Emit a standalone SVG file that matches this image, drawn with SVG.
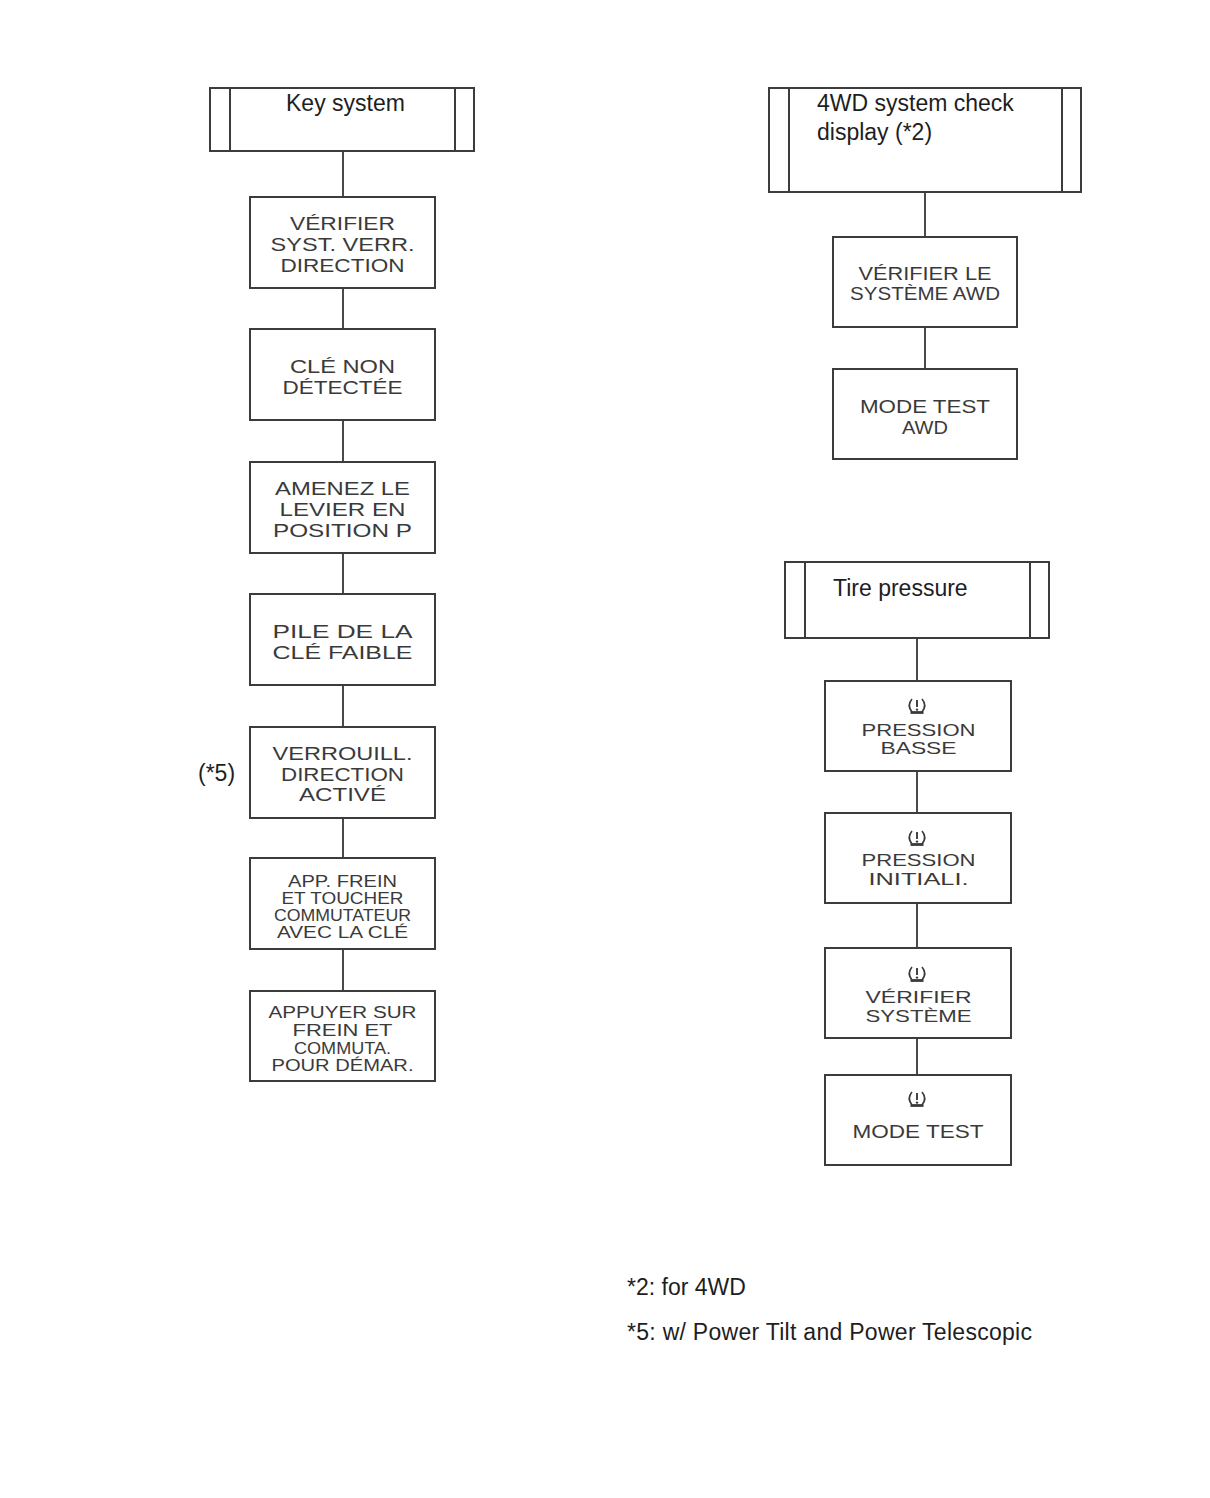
<svg xmlns="http://www.w3.org/2000/svg" xmlns:xlink="http://www.w3.org/1999/xlink" width="1210" height="1498" viewBox="0 0 1210 1498">
<style>
.bg{fill:#ffffff}
.box{fill:#ffffff;stroke:#3c3c3c;stroke-width:2}
.hdr{fill:#ffffff;stroke:#3c3c3c;stroke-width:2}
.inner{stroke:#3c3c3c;stroke-width:2}
.conn{stroke:#4a4a4a;stroke-width:2;fill:none}
.t{font-family:"Liberation Sans",Arial,sans-serif;font-size:19px;fill:#3a3a3a;text-anchor:middle}
.tt{font-family:"Liberation Sans",Arial,sans-serif;font-size:17px;fill:#3a3a3a;text-anchor:middle}
.ts{font-family:"Liberation Sans",Arial,sans-serif;font-size:16px;fill:#3a3a3a;text-anchor:middle}
.h{font-family:"Liberation Sans",Arial,sans-serif;font-size:23px;fill:#1e1e1e}
.ic{fill:none;stroke:#3a3a3a;stroke-width:1.6}
</style>
<defs>
<g id="tire">
<path class="ic" d="M5 1 Q-0.5 7.5 5 14"/>
<path class="ic" d="M15 1 Q20.5 7.5 15 14"/>
<path d="M3.5 14.5 L16.5 14.5" stroke="#3a3a3a" stroke-width="2.8"/>
<path d="M10 2 L10 9" stroke="#3a3a3a" stroke-width="1.9"/>
<circle cx="10" cy="11.6" r="1.2" fill="#3a3a3a"/>
</g>
</defs>
<rect class="bg" x="0" y="0" width="1210" height="1498"/>

<g id="connectors">
<line class="conn" x1="343" y1="151" x2="343" y2="197"/>
<line class="conn" x1="343" y1="288" x2="343" y2="329"/>
<line class="conn" x1="343" y1="420" x2="343" y2="462"/>
<line class="conn" x1="343" y1="553" x2="343" y2="594"/>
<line class="conn" x1="343" y1="685" x2="343" y2="727"/>
<line class="conn" x1="343" y1="818" x2="343" y2="858"/>
<line class="conn" x1="343" y1="949" x2="343" y2="991"/>
<line class="conn" x1="925" y1="192" x2="925" y2="237"/>
<line class="conn" x1="925" y1="327" x2="925" y2="369"/>
<line class="conn" x1="917" y1="638" x2="917" y2="681"/>
<line class="conn" x1="917" y1="771" x2="917" y2="813"/>
<line class="conn" x1="917" y1="903" x2="917" y2="948"/>
<line class="conn" x1="917" y1="1038" x2="917" y2="1075"/>
</g>

<g id="key-system">
<rect class="hdr" x="210" y="88" width="264" height="63"/>
<line class="inner" x1="230" y1="88" x2="230" y2="151"/>
<line class="inner" x1="455" y1="88" x2="455" y2="151"/>
<text class="h" x="286" y="111">Key system</text>
</g>

<g id="n-verifier-syst">
<rect class="box" x="250" y="197" width="185" height="91"/>
<text class="t" x="342.5" y="230" textLength="105" lengthAdjust="spacingAndGlyphs">VÉRIFIER</text>
<text class="t" x="342.5" y="251" textLength="144" lengthAdjust="spacingAndGlyphs">SYST. VERR.</text>
<text class="t" x="342.5" y="272" textLength="124" lengthAdjust="spacingAndGlyphs">DIRECTION</text>
</g>

<g id="n-cle-non">
<rect class="box" x="250" y="329" width="185" height="91"/>
<text class="t" x="342.5" y="373" textLength="105" lengthAdjust="spacingAndGlyphs">CLÉ NON</text>
<text class="t" x="342.5" y="394" textLength="120" lengthAdjust="spacingAndGlyphs">DÉTECTÉE</text>
</g>

<g id="n-amenez">
<rect class="box" x="250" y="462" width="185" height="91"/>
<text class="t" x="342.5" y="495" textLength="135" lengthAdjust="spacingAndGlyphs">AMENEZ LE</text>
<text class="t" x="342.5" y="516" textLength="126" lengthAdjust="spacingAndGlyphs">LEVIER EN</text>
<text class="t" x="342.5" y="537" textLength="139" lengthAdjust="spacingAndGlyphs">POSITION P</text>
</g>

<g id="n-pile">
<rect class="box" x="250" y="594" width="185" height="91"/>
<text class="t" x="342.5" y="638" textLength="140" lengthAdjust="spacingAndGlyphs">PILE DE LA</text>
<text class="t" x="342.5" y="659" textLength="140" lengthAdjust="spacingAndGlyphs">CLÉ FAIBLE</text>
</g>

<g id="n-verrouill">
<rect class="box" x="250" y="727" width="185" height="91"/>
<text class="t" x="342.5" y="760" textLength="140" lengthAdjust="spacingAndGlyphs">VERROUILL.</text>
<text class="t" x="342.5" y="781" textLength="123" lengthAdjust="spacingAndGlyphs">DIRECTION</text>
<text class="t" x="342.5" y="801" textLength="87" lengthAdjust="spacingAndGlyphs">ACTIVÉ</text>
<text class="h" x="198" y="781">(*5)</text>
</g>

<g id="n-app-frein">
<rect class="box" x="250" y="858" width="185" height="91"/>
<text class="ts" x="342.5" y="887" textLength="109" lengthAdjust="spacingAndGlyphs">APP. FREIN</text>
<text class="ts" x="342.5" y="904" textLength="122" lengthAdjust="spacingAndGlyphs">ET TOUCHER</text>
<text class="ts" x="342.5" y="921" textLength="137" lengthAdjust="spacingAndGlyphs">COMMUTATEUR</text>
<text class="ts" x="342.5" y="938" textLength="131" lengthAdjust="spacingAndGlyphs">AVEC LA CLÉ</text>
</g>

<g id="n-appuyer">
<rect class="box" x="250" y="991" width="185" height="90"/>
<text class="ts" x="342.5" y="1018" textLength="148" lengthAdjust="spacingAndGlyphs">APPUYER SUR</text>
<text class="ts" x="342.5" y="1036" textLength="100" lengthAdjust="spacingAndGlyphs">FREIN ET</text>
<text class="ts" x="342.5" y="1054" textLength="97" lengthAdjust="spacingAndGlyphs">COMMUTA.</text>
<text class="ts" x="342.5" y="1071" textLength="142" lengthAdjust="spacingAndGlyphs">POUR DÉMAR.</text>
</g>

<g id="awd-system">
<rect class="hdr" x="769" y="88" width="312" height="104"/>
<line class="inner" x1="789" y1="88" x2="789" y2="192"/>
<line class="inner" x1="1062" y1="88" x2="1062" y2="192"/>
<text class="h" x="817" y="111">4WD system check</text>
<text class="h" x="817" y="140">display (*2)</text>
</g>

<g id="n-verifier-awd">
<rect class="box" x="833" y="237" width="184" height="90"/>
<text class="t" x="925" y="280" textLength="133" lengthAdjust="spacingAndGlyphs">VÉRIFIER LE</text>
<text class="t" x="925" y="300" textLength="150" lengthAdjust="spacingAndGlyphs">SYSTÈME AWD</text>
</g>

<g id="n-mode-test-awd">
<rect class="box" x="833" y="369" width="184" height="90"/>
<text class="t" x="925" y="413" textLength="130" lengthAdjust="spacingAndGlyphs">MODE TEST</text>
<text class="t" x="925" y="434" textLength="46" lengthAdjust="spacingAndGlyphs">AWD</text>
</g>

<g id="tire-pressure">
<rect class="hdr" x="785" y="562" width="264" height="76"/>
<line class="inner" x1="805" y1="562" x2="805" y2="638"/>
<line class="inner" x1="1030" y1="562" x2="1030" y2="638"/>
<text class="h" x="833" y="596">Tire pressure</text>
</g>

<g id="n-pression-basse">
<rect class="box" x="825" y="681" width="186" height="90"/>
<use xlink:href="#tire" href="#tire" x="907" y="698"/>
<text class="tt" x="918.5" y="736" textLength="114" lengthAdjust="spacingAndGlyphs">PRESSION</text>
<text class="tt" x="918.5" y="754" textLength="76" lengthAdjust="spacingAndGlyphs">BASSE</text>
</g>

<g id="n-pression-init">
<rect class="box" x="825" y="813" width="186" height="90"/>
<use xlink:href="#tire" href="#tire" x="907" y="830"/>
<text class="tt" x="918.5" y="866" textLength="114" lengthAdjust="spacingAndGlyphs">PRESSION</text>
<text class="tt" x="918.5" y="885" textLength="100" lengthAdjust="spacingAndGlyphs">INITIALI.</text>
</g>

<g id="n-verifier-systeme">
<rect class="box" x="825" y="948" width="186" height="90"/>
<use xlink:href="#tire" href="#tire" x="907" y="966"/>
<text class="tt" x="918.5" y="1003" textLength="106" lengthAdjust="spacingAndGlyphs">VÉRIFIER</text>
<text class="tt" x="918.5" y="1022" textLength="106" lengthAdjust="spacingAndGlyphs">SYSTÈME</text>
</g>

<g id="n-mode-test">
<rect class="box" x="825" y="1075" width="186" height="90"/>
<use xlink:href="#tire" href="#tire" x="907" y="1091"/>
<text class="t" x="918" y="1138" textLength="131" lengthAdjust="spacingAndGlyphs">MODE TEST</text>
</g>

<g id="footnotes">
<text class="h" x="627" y="1295">*2: for 4WD</text>
<text class="h" x="627" y="1340" textLength="405">*5: w/ Power Tilt and Power Telescopic</text>
</g>
</svg>
